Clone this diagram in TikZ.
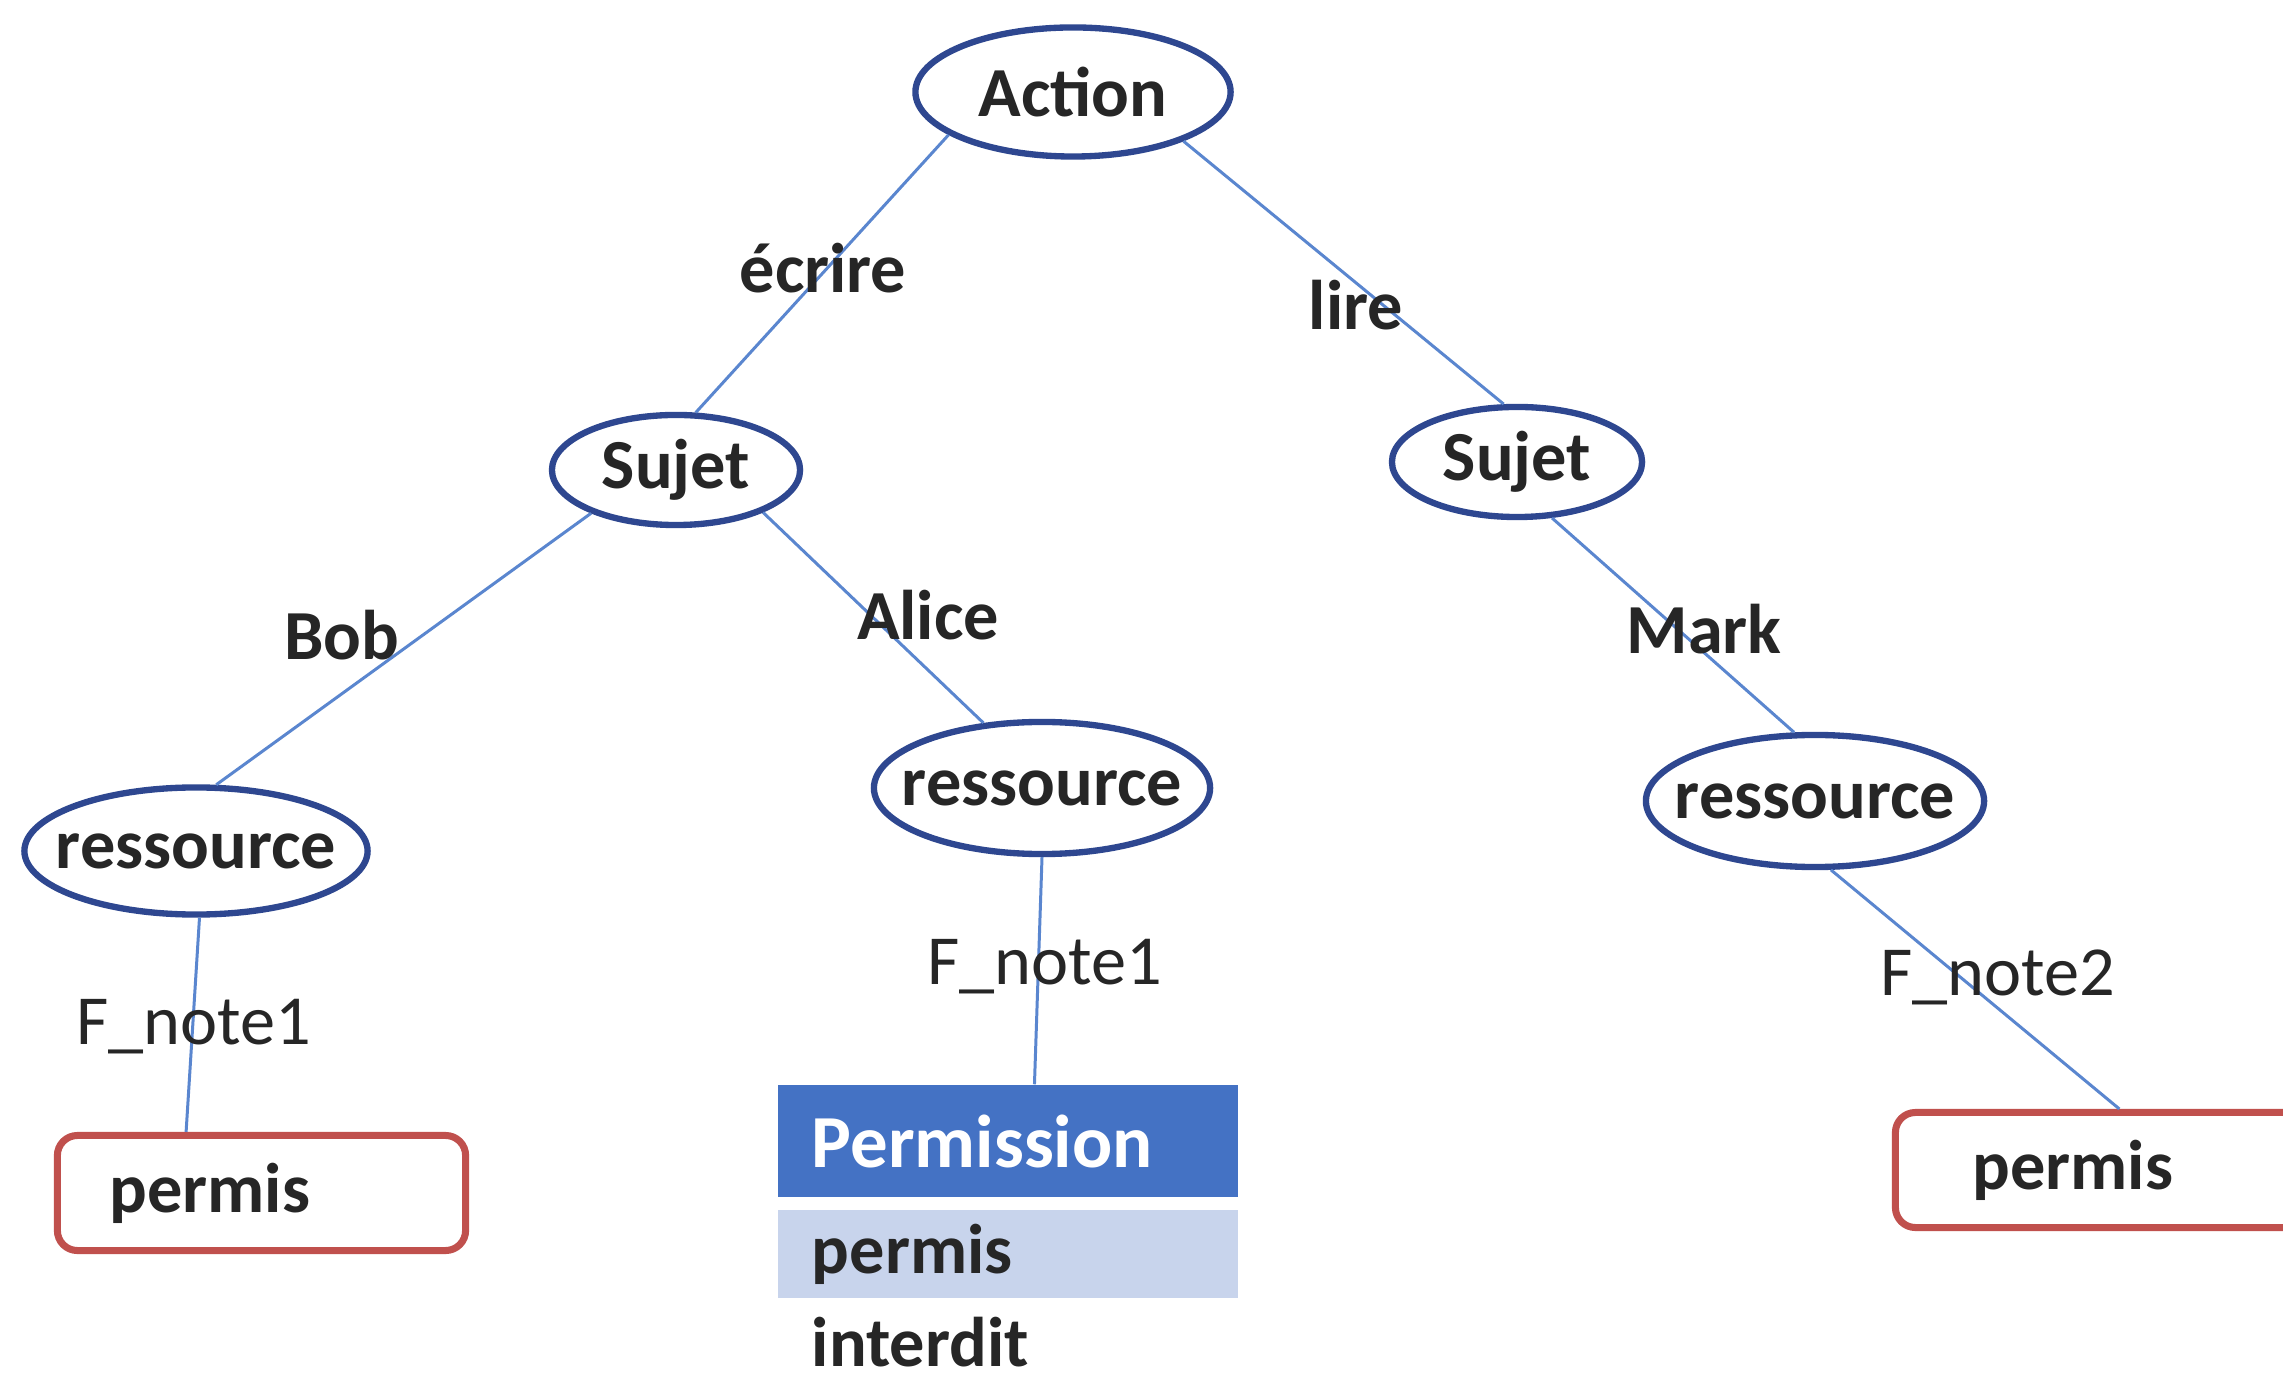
\documentclass[tikz,border=0pt]{standalone}
\usepackage{fontspec}
\setmainfont{Carlito}
\usetikzlibrary{shapes.geometric}

\definecolor{navy}{HTML}{2E4790}
\definecolor{edgeblue}{HTML}{5A86CF}
\definecolor{boxred}{HTML}{C0504D}
\definecolor{headblue}{HTML}{4472C4}
\definecolor{rowblue}{HTML}{C8D4EC}
\definecolor{ink}{HTML}{262626}

% zero-width box so that the ellipse size is set by its minimum dimensions only
\newcommand\ovaltext[1]{\makebox[0pt]{\raisebox{-1.7pt}{#1}}}

\tikzset{
  oval/.style={ellipse, draw=navy, line width=1.8pt, fill=white, inner sep=0pt,
    font=\fontsize{20}{24}\selectfont\bfseries, text=ink},
  link/.style={draw=edgeblue, line width=0.85pt},
  lbl/.style={anchor=base, font=\fontsize{20}{24}\selectfont\bfseries, text=ink, inner sep=0pt},
  lblr/.style={anchor=base, font=\fontsize{20}{24}\selectfont, text=ink, inner sep=0pt},
  outcome/.style={rectangle, rounded corners=0.2cm, draw=boxred, line width=2pt,
    minimum width=4.08cm, minimum height=1.15cm, inner ysep=0pt, align=left,
    font=\fontsize{20}{24}\selectfont\bfseries, text=ink},
  cell/.style={rectangle, minimum width=4.6cm, inner xsep=0.34cm, inner ysep=0pt,
    text width=3.92cm, align=left, font=\fontsize{20}{24}\selectfont\bfseries}
}

\begin{document}
\begin{tikzpicture}[x=0.01cm, y=-0.01cm]
  \useasboundingbox (0,0) rectangle (2283,1380);
  \clip (0,0) rectangle (2283,1380);
  \fill[white] (0,0) rectangle (2283,1380);

  % tree nodes
  \node[oval, minimum width=3.15cm, minimum height=1.29cm] (act) at (1073,92) {\ovaltext{Action}};
  \node[oval, minimum width=2.48cm, minimum height=1.10cm] (sl) at (676,470) {\ovaltext{Sujet}};
  \node[oval, minimum width=2.50cm, minimum height=1.10cm] (sr) at (1517,462) {\ovaltext{Sujet}};
  \node[oval, minimum width=3.43cm, minimum height=1.27cm] (rl) at (196,851) {\ovaltext{ressource}};
  \node[oval, minimum width=3.36cm, minimum height=1.32cm] (rm) at (1042,788) {\ovaltext{ressource}};
  \node[oval, minimum width=3.38cm, minimum height=1.32cm] (rr) at (1815,801) {\ovaltext{ressource}};

  % leaves
  \node[outcome, inner xsep=0.52cm, text width=3.04cm] (pl) at (261.5,1193) {permis};
  \node[outcome, inner xsep=0.77cm, text width=2.54cm] (pr) at (2099.5,1170) {permis};

  % permission table
  \node[cell, fill=headblue, text=white, minimum height=1.12cm,
        font=\fontsize{21.3}{25}\selectfont\bfseries] (ph) at (1008,1141) {Permission};
  \node[cell, fill=rowblue, text=ink, minimum height=0.88cm] (p1) at (1008,1254) {permis};
  \node[cell, text=ink, minimum height=0.80cm] (p2) at (1008,1342) {interdit};

  % connectors
  \draw[link] (act.199) -- (sl.71);
  \draw[link] (act.-24) -- (sr.103);
  \draw[link] (sl.207) -- (rl.73);
  \draw[link] (sl.-26) -- (rm.132);
  \draw[link] (sr.-58) -- (rr.107);
  \draw[link] (rl.-87) -- (pl.141);
  \draw[link] (rm.-90) -- (ph.65);
  \draw[link] (rr.-77) -- (pr.72);

  % connector labels
  \node[lbl] (lecr) at (823,293) {écrire};
  \node[lbl] (llir) at (1356,330) {lire};
  \node[lbl] (lbob) at (342,660) {Bob};
  \node[lbl] (lali) at (928,640) {Alice};
  \node[lbl] (lmar) at (1704,654) {Mark};
  \node[lblr] (lf1a) at (194,1044) {F\_note1};
  \node[lblr] (lf1b) at (1045,984) {F\_note1};
  \node[lblr] (lf2) at (1998,995) {F\_note2};
\end{tikzpicture}
\end{document}
